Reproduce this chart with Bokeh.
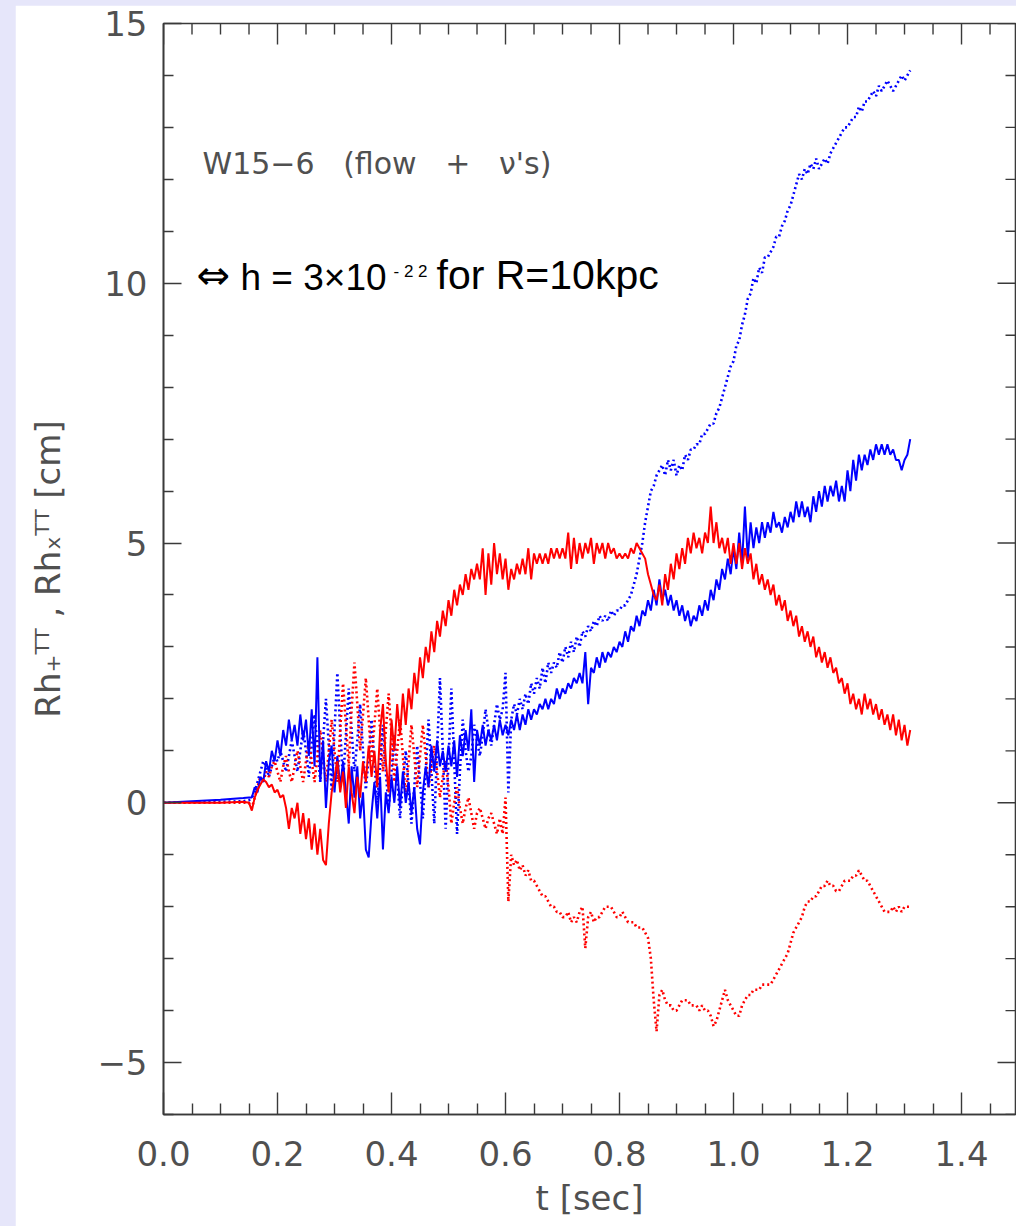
from bokeh.plotting import figure
from bokeh.models import Range1d, LinearAxis, FixedTicker, CustomJSTickFormatter, Label
from bokeh.embed import file_html
from bokeh.resources import INLINE

# ---------------- data ----------------
T = [
    0.000, 0.050, 0.100, 0.140,
    0.150, 0.155, 0.160, 0.165, 0.170, 0.175, 0.180, 0.185, 0.190, 0.195,
    0.200, 0.205, 0.210, 0.215, 0.220, 0.225, 0.230, 0.235, 0.240, 0.245,
    0.250, 0.255, 0.260, 0.265, 0.270, 0.275, 0.280, 0.285, 0.290, 0.295,
    0.300, 0.305, 0.310, 0.315, 0.320, 0.325, 0.330, 0.335, 0.340, 0.345,
    0.350, 0.355, 0.360, 0.365, 0.370, 0.375, 0.380, 0.385, 0.390, 0.395,
    0.400, 0.405, 0.410, 0.415, 0.420, 0.425, 0.430, 0.435, 0.440, 0.445,
    0.450, 0.455, 0.460, 0.465, 0.470, 0.475, 0.480, 0.485, 0.490, 0.495,
    0.500, 0.505, 0.510, 0.515, 0.520, 0.525, 0.530, 0.535, 0.540, 0.545,
    0.550, 0.555, 0.560, 0.565, 0.570, 0.575, 0.580, 0.585, 0.590, 0.595,
    0.600, 0.605, 0.610, 0.615, 0.620, 0.625, 0.630, 0.635, 0.640, 0.645,
    0.650, 0.655, 0.660, 0.665, 0.670, 0.675, 0.680, 0.685, 0.690, 0.695,
    0.700, 0.705, 0.710, 0.715, 0.720, 0.725, 0.730, 0.735, 0.740, 0.745,
    0.750, 0.755, 0.760, 0.765, 0.770, 0.775, 0.780, 0.785, 0.790, 0.795,
    0.800, 0.805, 0.810, 0.815, 0.820, 0.825, 0.830, 0.835, 0.840, 0.845,
    0.850, 0.855, 0.860, 0.865, 0.870, 0.875, 0.880, 0.885, 0.890, 0.895,
    0.900, 0.905, 0.910, 0.915, 0.920, 0.925, 0.930, 0.935, 0.940, 0.945,
    0.950, 0.955, 0.960, 0.965, 0.970, 0.975, 0.980, 0.985, 0.990, 0.995,
    1.000, 1.005, 1.010, 1.015, 1.020, 1.025, 1.030, 1.035, 1.040, 1.045,
    1.050, 1.055, 1.060, 1.065, 1.070, 1.075, 1.080, 1.085, 1.090, 1.095,
    1.100, 1.105, 1.110, 1.115, 1.120, 1.125, 1.130, 1.135, 1.140, 1.145,
    1.150, 1.155, 1.160, 1.165, 1.170, 1.175, 1.180, 1.185, 1.190, 1.195,
    1.200, 1.205, 1.210, 1.215, 1.220, 1.225, 1.230, 1.235, 1.240, 1.245,
    1.250, 1.255, 1.260, 1.265, 1.270, 1.275, 1.280, 1.285, 1.290, 1.295,
    1.300, 1.305, 1.310,
]

# Rh_+ (flow), red solid
RED_SOLID = [
    0.0, 0.0, 0.0, 0.02,
    0.0, -0.15, 0.1, 0.25, 0.35, 0.45, 0.4, 0.3, 0.35, 0.2,
    0.25, 0.1, 0.15, -0.1, -0.5, -0.1, -0.3, 0.0, -0.6, -0.2,
    -0.7, -0.3, -0.9, -0.4, -1.0, -0.5, -1.1, -1.2, -0.4, 0.2,
    0.5, 0.8, 0.2, 0.6, -0.1, 0.7, 0.2, -0.2, 0.5, 0.1,
    0.8, 0.4, 1.1, 0.5, 1.0, 0.3, 1.4, 1.9, 0.8, 0.2,
    1.6, 1.0, 1.9, 1.3, 2.1, 1.5, 2.2, 1.8, 2.5, 2.1,
    2.8, 2.4, 3.0, 2.7, 3.3, 2.9, 3.5, 3.2, 3.7, 3.4,
    3.9, 3.6, 4.1, 3.8, 4.2, 4.0, 4.4, 4.1, 4.5, 4.3,
    4.6, 4.3, 4.9, 4.0, 4.8, 4.2, 5.0, 4.4, 4.8, 4.3,
    4.7, 4.1, 4.5, 4.3, 4.6, 4.4, 4.7, 4.4, 4.9, 4.3,
    4.8, 4.6, 4.8, 4.6, 4.8, 4.6, 4.9, 4.7, 4.9, 4.7,
    4.9, 4.7, 5.2, 4.5, 5.1, 4.6, 5.0, 4.7, 5.0, 4.8,
    5.1, 4.6, 5.0, 4.8, 5.0, 4.7, 5.0, 4.8, 4.9, 4.7,
    4.8, 4.7, 4.8, 4.7, 4.9, 4.8, 5.0, 4.9, 4.8, 4.7,
    4.4, 4.2, 4.0, 3.9, 4.2, 3.8, 4.4, 4.1, 4.6, 4.3,
    4.8, 4.5, 4.9, 4.6, 5.1, 4.8, 5.2, 4.9, 5.1, 4.8,
    5.2, 5.0, 5.7, 5.0, 5.4, 4.9, 5.1, 4.8, 5.1, 4.6,
    5.0, 4.6, 5.0, 4.5, 4.9, 4.6, 4.8, 4.3, 4.6, 4.2,
    4.4, 4.1, 4.3, 4.0, 4.2, 3.8, 4.0, 3.7, 3.9, 3.5,
    3.7, 3.4, 3.6, 3.2, 3.4, 3.1, 3.3, 3.0, 3.2, 2.8,
    3.0, 2.7, 2.9, 2.6, 2.8, 2.5, 2.6, 2.3, 2.4, 2.1,
    2.3, 1.9, 2.1, 1.8, 2.0, 1.7, 2.1, 1.8, 2.0, 1.7,
    1.9, 1.6, 1.8, 1.5, 1.7, 1.4, 1.7, 1.3, 1.6, 1.2,
    1.5, 1.1, 1.4,
]

# Rh_x (flow), blue solid
BLUE_SOLID = [
    0.0, 0.03, 0.06, 0.09,
    0.1, 0.1, 0.3, 0.2, 0.5, 0.4, 0.8, 0.6, 1.0, 0.8,
    1.2, 0.9, 1.4, 1.1, 1.6, 1.2, 1.5, 1.1, 1.7, 1.2,
    1.6, 0.9, 1.8, 0.7, 2.8, 0.4, 1.2, -0.1, 0.8, 1.1,
    0.2, 0.9, 0.3, 0.8, 0.2, -0.4, 0.7, 0.1, 0.7, -0.3,
    0.2, -0.9, -1.05, -0.2, 0.4, -0.3, 0.5, -0.9, 0.2, -0.2,
    0.5, 0.0, 0.7, -0.1, 0.6, 0.0, 0.4, -0.2, 0.3, -0.5,
    -0.8, 0.2, 0.7, 0.3, 1.1, 0.6, 1.2, 0.7, 1.0, 0.6,
    1.1, 0.7, 1.2, 0.5, 1.3, 0.9, 1.4, 1.0, 1.8, 0.4,
    1.4, 1.1, 1.5, 1.1, 1.4, 1.2, 1.5, 1.2, 1.6, 1.3,
    1.5, 1.3, 1.6, 1.4, 1.7, 1.4, 1.7, 1.5, 1.8, 1.6,
    1.8, 1.7, 1.9, 1.8, 2.0, 1.8, 2.0, 1.9, 2.2, 2.0,
    2.2, 2.1, 2.3, 2.2, 2.4, 2.3, 2.5, 2.3, 2.9, 1.9,
    2.6, 2.5, 2.8, 2.6, 2.9, 2.7, 2.9, 2.8, 3.0, 2.9,
    3.1, 3.0, 3.3, 3.1, 3.4, 3.3, 3.6, 3.4, 3.7, 3.6,
    3.9, 3.7, 4.1, 3.8, 4.3, 3.9, 4.1, 3.8, 4.0, 3.7,
    3.9, 3.6, 3.8, 3.5, 3.7, 3.4, 3.6, 3.5, 3.8, 3.6,
    3.9, 3.7, 4.1, 3.9, 4.3, 4.1, 4.5, 4.3, 4.7, 4.4,
    4.9, 4.5, 5.2, 4.6, 5.7, 4.7, 5.4, 4.9, 5.3, 5.0,
    5.4, 5.1, 5.4, 5.2, 5.6, 5.3, 5.4, 5.2, 5.5, 5.3,
    5.6, 5.4, 5.8, 5.5, 5.8, 5.5, 5.7, 5.4, 5.9, 5.6,
    6.0, 5.7, 6.1, 5.8, 6.1, 5.9, 6.2, 5.8, 6.1, 5.8,
    6.4, 6.0, 6.6, 6.2, 6.7, 6.4, 6.7, 6.5, 6.8, 6.6,
    6.9, 6.7, 6.9, 6.7, 6.9, 6.7, 6.8, 6.6, 6.6, 6.4,
    6.6, 6.7, 7.0,
]

# Rh_x (neutrinos), blue dotted
BLUE_DOTTED = [
    0.0, 0.01, 0.02, 0.03,
    0.05, 0.1, 0.2, 0.4, 0.6, 0.8, 0.7, 0.5, 0.7, 0.9,
    0.8, 1.0, 0.8, 0.6, 0.9, 1.2, 0.9, 0.6, 1.0, 1.4,
    1.0, 0.5, 1.1, 1.7, 1.1, 0.4, 1.2, 2.0, 1.1, 0.25,
    1.4, 2.5, 1.4, 0.4, 1.3, 2.2, 1.4, 0.6, 1.2, 1.9,
    1.0, 0.25, 0.9, 1.6, 0.8, 0.0, 0.7, 1.5, 0.6, -0.1,
    0.6, 1.3, 0.5, -0.3, 0.4, 1.0, 0.3, -0.4, 0.3, 1.1,
    0.4, -0.3, 0.6, 1.6, 0.6, -0.4, 1.0, 2.4, 1.0, -0.5,
    0.8, 2.2, 0.8, -0.6, 0.6, 1.6, 1.0, 0.6, 0.9, 1.5,
    1.2, 0.9, 1.3, 1.8, 1.4, 1.1, 1.5, 1.9, 1.6, 1.8,
    2.5, 0.2, 1.6, 1.9, 1.7, 2.0, 1.8, 2.1, 1.9, 2.3,
    2.1, 2.4, 2.2, 2.6, 2.3, 2.7, 2.5, 2.7, 2.6, 2.9,
    2.7, 3.0, 2.8, 3.1, 2.9, 3.2, 3.0, 3.3, 3.2, 3.4,
    3.3, 3.5, 3.4, 3.6, 3.5, 3.6, 3.5, 3.7, 3.6, 3.7,
    3.7, 3.8, 3.8, 3.9, 4.0, 4.2, 4.4, 4.7, 5.0, 5.4,
    5.7, 6.0, 6.1, 6.3, 6.4, 6.5, 6.3, 6.6, 6.4, 6.6,
    6.3, 6.5, 6.4, 6.7, 6.6, 6.8, 6.8, 6.9, 6.9, 7.1,
    7.1, 7.2, 7.3, 7.3, 7.5, 7.6, 7.8, 8.0, 8.2, 8.4,
    8.5, 8.8, 8.9, 9.2, 9.4, 9.7, 9.8, 10.1, 10.0, 10.3,
    10.2, 10.5, 10.5, 10.6, 10.7, 10.9, 10.9, 11.1, 11.2, 11.4,
    11.5, 11.7, 11.9, 12.1, 12.0, 12.2, 12.1, 12.3, 12.2, 12.4,
    12.2, 12.3, 12.4, 12.3, 12.5, 12.6, 12.7, 12.8, 12.9, 13.0,
    13.0, 13.1, 13.2, 13.2, 13.4, 13.3, 13.5, 13.5, 13.6, 13.7,
    13.6, 13.8, 13.7, 13.8, 13.9, 13.8, 13.7, 13.8, 13.9, 14.0,
    13.9, 14.0, 14.1,
]

# Rh_+ (neutrinos), red dotted
RED_DOTTED = [
    0.0, 0.0, 0.0, 0.0,
    0.0, -0.1, 0.1, 0.3, 0.5, 0.4, 0.6, 0.5, 0.7, 0.8,
    0.6, 0.4, 0.7, 0.9, 0.6, 0.4, 0.7, 1.0, 0.7, 0.4,
    0.8, 1.2, 0.8, 0.4, 0.9, 1.4, 0.9, 0.4, 1.0, 1.6,
    1.0, 0.4, 1.4, 2.3, 1.5, 0.7, 1.8, 2.7, 1.9, 1.0,
    1.7, 2.4, 1.6, 0.8, 1.5, 2.2, 1.4, 0.6, 1.4, 2.1,
    1.3, 0.4, 1.0, 1.6, 0.9, 0.1, 0.8, 1.5, 0.9, 0.3,
    0.9, 1.5, 0.9, 0.3, 0.7, 1.1, 0.6, 0.1, 0.5, 0.8,
    0.3, -0.4, 0.0, 0.3, -0.1, -0.4, -0.1, 0.1, -0.2, -0.5,
    -0.2, -0.1, -0.3, -0.5, -0.3, -0.2, -0.4, -0.6, -0.3, -0.6,
    0.1, -1.9, -1.0, -1.2, -1.1, -1.3, -1.2, -1.4, -1.3, -1.5,
    -1.5, -1.6, -1.7, -1.8, -1.8, -1.9, -2.0, -2.0, -2.1, -2.1,
    -2.2, -2.2, -2.1, -2.3, -2.2, -2.3, -2.1, -2.0, -2.8, -2.2,
    -2.1, -2.3, -2.2, -2.2, -2.1, -2.0, -2.0, -2.0, -2.1, -2.2,
    -2.2, -2.1, -2.2, -2.3, -2.3, -2.3, -2.4, -2.4, -2.4, -2.5,
    -2.6, -3.0, -3.8, -4.4, -3.7, -3.6, -3.8, -3.9, -3.9, -4.0,
    -4.0, -3.9, -3.8, -3.8, -3.8, -3.9, -3.9, -3.9, -4.0, -3.9,
    -4.0, -4.0, -4.1, -4.3, -4.2, -4.0, -3.8, -3.6, -3.8, -3.9,
    -4.0, -4.1, -4.1, -3.9, -3.8, -3.7, -3.7, -3.6, -3.6, -3.6,
    -3.5, -3.5, -3.5, -3.5, -3.4, -3.3, -3.2, -3.1, -3.0, -2.9,
    -2.7, -2.5, -2.4, -2.3, -2.2, -2.0, -1.9, -1.9, -1.8, -1.8,
    -1.7, -1.6, -1.6, -1.5, -1.6, -1.6, -1.7, -1.7, -1.6, -1.5,
    -1.5, -1.5, -1.4, -1.4, -1.3, -1.4, -1.5, -1.5, -1.6, -1.7,
    -1.8, -1.9, -2.0, -2.1, -2.1, -2.1, -2.0, -2.1, -2.0, -2.1,
    -2.0, -2.0, -2.0,
]

X_MAJOR = [0.0, 0.2, 0.4, 0.6, 0.8, 1.0, 1.2, 1.4]
X_MINOR = [0.05, 0.1, 0.15, 0.25, 0.3, 0.35, 0.45, 0.5, 0.55, 0.65, 0.7, 0.75,
           0.85, 0.9, 0.95, 1.05, 1.1, 1.15, 1.25, 1.3, 1.35, 1.45]
Y_MAJOR = [-5, 0, 5, 10, 15]
Y_MINOR = [-6, -4, -3, -2, -1, 1, 2, 3, 4, 6, 7, 8, 9, 11, 12, 13, 14]

X_START, X_END = 0.0, 1.4947
Y_START, Y_END = -6.0, 15.0

# ---------------- layout constants (page pixels) ----------------
FL, FT, FR, FB = 163, 23, 1015, 1114   # frame edges on the page
PAGE_LEFT, PAGE_TOP = 15, 5            # white panel offset
W, H = 1016 - PAGE_LEFT, 1226 - PAGE_TOP

GREY = "#505050"
AX = "#3a3a3a"
FONT = "DejaVu Sans"
NB = "\u00a0"

PX_PER_X = (FR - FL) / (X_END - X_START)
PX_PER_Y = (FB - FT) / (Y_END - Y_START)


def dx(px):
    return X_START + (px - FL) / PX_PER_X


def dy(py):
    return Y_END - (py - FT) / PX_PER_Y


p = figure(width=W, height=H,
           x_range=Range1d(X_START, X_END), y_range=Range1d(Y_START, Y_END),
           output_backend="svg", toolbar_location=None,
           x_axis_location=None, y_axis_location=None,
           min_border_left=FL - PAGE_LEFT, min_border_right=1,
           min_border_top=FT - PAGE_TOP, min_border_bottom=H - (FB - PAGE_TOP))
p.margin = (PAGE_TOP, 0, 0, PAGE_LEFT)
p.xgrid.visible = False
p.ygrid.visible = False
p.outline_line_color = AX
p.outline_line_width = 1.6
p.background_fill_color = "white"
p.border_fill_color = "white"


def style_axis(ax, tick_in, minor_in):
    ax.axis_line_color = AX
    ax.axis_line_width = 1.6
    ax.major_tick_line_color = AX
    ax.major_tick_line_width = 1.4
    ax.minor_tick_line_color = AX
    ax.minor_tick_line_width = 1.4
    ax.major_tick_in = tick_in
    ax.major_tick_out = 0
    ax.minor_tick_in = minor_in
    ax.minor_tick_out = 0
    ax.major_label_text_font = FONT
    ax.major_label_text_font_size = "34px"
    ax.major_label_text_color = GREY
    ax.axis_label_text_font = FONT
    ax.axis_label_text_font_size = "34px"
    ax.axis_label_text_font_style = "normal"
    ax.axis_label_text_color = GREY


xfmt = CustomJSTickFormatter(code="return tick.toFixed(1);")
yfmt = CustomJSTickFormatter(code="return tick < 0 ? '\\u2212' + (-tick) : '' + tick;")

bottom = LinearAxis(ticker=FixedTicker(ticks=X_MAJOR, minor_ticks=X_MINOR), formatter=xfmt,
                    axis_label="t [sec]")
style_axis(bottom, 22, 11)
bottom.major_label_standoff = 26
bottom.axis_label_standoff = 9
p.add_layout(bottom, "below")

left = LinearAxis(ticker=FixedTicker(ticks=Y_MAJOR, minor_ticks=Y_MINOR), formatter=yfmt,
                  axis_label="Rh\u208a\u1d40\u1d40 , Rh\u2093\u1d40\u1d40 [cm]")
style_axis(left, 18, 10)
left.major_label_standoff = 16
left.axis_label_standoff = 26
p.add_layout(left, "left")

# mirrored tick marks on the top and right edges of the box
TOP_MAJ, TOP_MIN = 21 / PX_PER_Y, 11 / PX_PER_Y
RIGHT_MAJ, RIGHT_MIN = 18 / PX_PER_X, 10 / PX_PER_X
p.segment(x0=X_MAJOR, y0=[Y_END] * len(X_MAJOR), x1=X_MAJOR, y1=[Y_END - TOP_MAJ] * len(X_MAJOR),
          line_color=AX, line_width=1.4)
p.segment(x0=X_MINOR, y0=[Y_END] * len(X_MINOR), x1=X_MINOR, y1=[Y_END - TOP_MIN] * len(X_MINOR),
          line_color=AX, line_width=1.4)
p.segment(x0=[X_END] * len(Y_MAJOR), y0=Y_MAJOR, x1=[X_END - RIGHT_MAJ] * len(Y_MAJOR), y1=Y_MAJOR,
          line_color=AX, line_width=1.4)
p.segment(x0=[X_END] * len(Y_MINOR), y0=Y_MINOR, x1=[X_END - RIGHT_MIN] * len(Y_MINOR), y1=Y_MINOR,
          line_color=AX, line_width=1.4)

# ---------------- curves ----------------
p.line(T, BLUE_DOTTED, line_color="#0000ff", line_width=2.6, line_dash="2 3")
p.line(T, RED_DOTTED, line_color="#ff0000", line_width=2.6, line_dash="2 3")
p.line(T, BLUE_SOLID, line_color="#0000ff", line_width=2.0)
p.line(T, RED_SOLID, line_color="#ff0000", line_width=2.0)

# ---------------- texts inside the frame ----------------
title_text = "W15\u22126" + NB * 2 + " (flow" + NB * 2 + " +" + NB * 2 + " \u03bd's)"
p.add_layout(Label(x=dx(202), y=dy(180), text=title_text,
                   text_font=FONT, text_font_size="30px", text_color=GREY))

p.add_layout(Label(x=dx(196), y=dy(297), text="\u21d4",
                   text_font="DejaVu Sans", text_font_size="40px", text_color="black"))
p.add_layout(Label(x=dx(240), y=dy(297), text="h = 3\u00d710",
                   text_font="Liberation Sans", text_font_size="37px", text_color="black"))
p.add_layout(Label(x=dx(393), y=dy(280), text="-" + NB + "2" + NB + "2",
                   text_font="Liberation Sans", text_font_size="17px", text_color="black"))
p.add_layout(Label(x=dx(436), y=dy(297), text="for R=10kpc",
                   text_font="Liberation Sans", text_font_size="41px", text_color="black"))

html = file_html(p, INLINE, title="W15-6")
css = "<style>html, body { background: #e6e6fa !important; margin: 0 !important; padding: 0 !important; }</style>"
html = html.replace("</head>", css + "</head>", 1)
open("out.html", "w").write(html)
